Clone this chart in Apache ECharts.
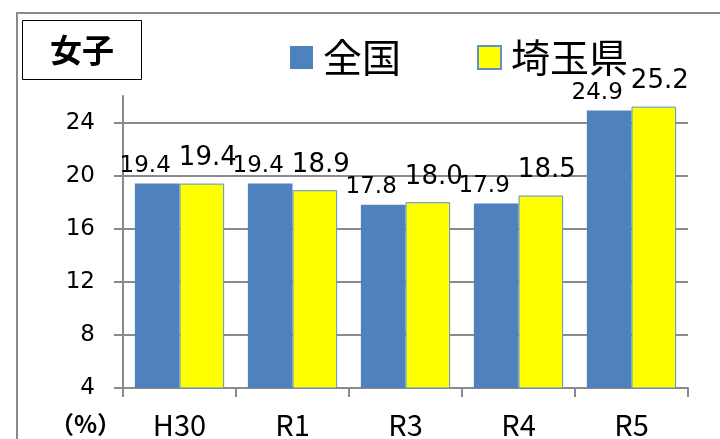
<!DOCTYPE html>
<html>
<head>
<meta charset="utf-8">
<script src="https://cdn.jsdelivr.net/npm/echarts@6/dist/echarts.min.js"></script>
<style>
  html, body { margin: 0; padding: 0; background: #fff; }
  #chart { width: 720px; height: 439px; }
</style>
</head>
<body>
<div id="chart"></div>
<script>
// 年度
var categories = ['H30', 'R1', 'R3', 'R4', 'R5'];
// 全国・埼玉県（%）
var zenkoku = [19.4, 19.4, 17.8, 17.9, 24.9];
var saitama = [19.4, 18.9, 18.0, 18.5, 25.2];
// 目盛り
var yTicks = [4, 8, 12, 16, 20, 24];

var numFont = 'DejaVu Sans';
var jpFont = 'Noto Sans CJK JP';

var myChart = echarts.init(document.getElementById('chart'));
var option = {
    animation: false,
    backgroundColor: '#fff',
    title: {
        text: '女子',
        left: 22,
        top: 20,
        padding: [14, 28, 14, 28],
        borderColor: '#000',
        borderWidth: 1,
        textStyle: { fontFamily: jpFont, fontSize: 32, fontWeight: 'bold', color: '#000' }
    },
    legend: {
        left: 285,
        top: 33,
        itemWidth: 23,
        itemHeight: 23,
        itemGap: 76,
        textStyle: { fontFamily: jpFont, fontSize: 39, color: '#000', padding: [0, 0, 0, 5] },
        data: [
            { name: '全国', icon: 'rect' },
            { name: '埼玉県', icon: 'rect' }
        ]
    },
    graphic: [{
        // 外枠
        type: 'rect',
        shape: { x: 17, y: 13, width: 720, height: 440 },
        style: { fill: 'none', stroke: '#8a8a8a', lineWidth: 2 },
        silent: true,
        z: -1
    }],
    grid: { left: 123, right: 32, top: 96, bottom: 51 },
    xAxis: {
        type: 'category',
        data: categories,
        axisLine: { lineStyle: { color: '#8a8a8a', width: 2 } },
        axisTick: { show: true, length: 9, lineStyle: { color: '#8a8a8a', width: 2 } },
        axisLabel: { fontFamily: jpFont, fontSize: 29, color: '#000', margin: 22 }
    },
    yAxis: {
        type: 'value',
        min: 4,
        max: 26,
        interval: 4,
        name: '（%）',
        nameLocation: 'start',
        nameGap: 24,
        nameTextStyle: { fontFamily: jpFont, fontSize: 24, fontWeight: 'bold', color: '#000', align: 'right', padding: [0, 2, 0, 0] },
        axisLine: { show: true, lineStyle: { color: '#8a8a8a', width: 2 } },
        axisTick: { show: true, length: 9, customValues: yTicks, lineStyle: { color: '#8a8a8a', width: 2 } },
        axisLabel: { fontFamily: numFont, fontSize: 23, color: '#000', margin: 28, customValues: yTicks },
        splitLine: { show: true, lineStyle: { color: ['#8a8a8a', '#8a8a8a', '#8a8a8a', '#8a8a8a', '#8a8a8a', '#8a8a8a', 'transparent'], width: 2 } }
    },
    series: [
        {
            name: '全国',
            type: 'bar',
            data: zenkoku,
            barGap: '0%',
            barCategoryGap: '21%',
            itemStyle: { color: '#4F81BD' },
            label: {
                show: true,
                position: 'top',
                distance: 6,
                offset: [-12, 0],
                fontFamily: numFont,
                fontSize: 23,
                color: '#000',
                formatter: function (p) { return p.value.toFixed(1); }
            }
        },
        {
            name: '埼玉県',
            type: 'bar',
            data: saitama,
            itemStyle: { color: '#FFFF00', borderColor: '#5B8FD6', borderWidth: 1 },
            label: {
                show: true,
                position: 'top',
                distance: 12,
                offset: [6, 0],
                fontFamily: numFont,
                fontSize: 26,
                color: '#000',
                formatter: function (p) { return p.value.toFixed(1); }
            }
        }
    ]
};
myChart.setOption(option);
</script>
</body>
</html>
